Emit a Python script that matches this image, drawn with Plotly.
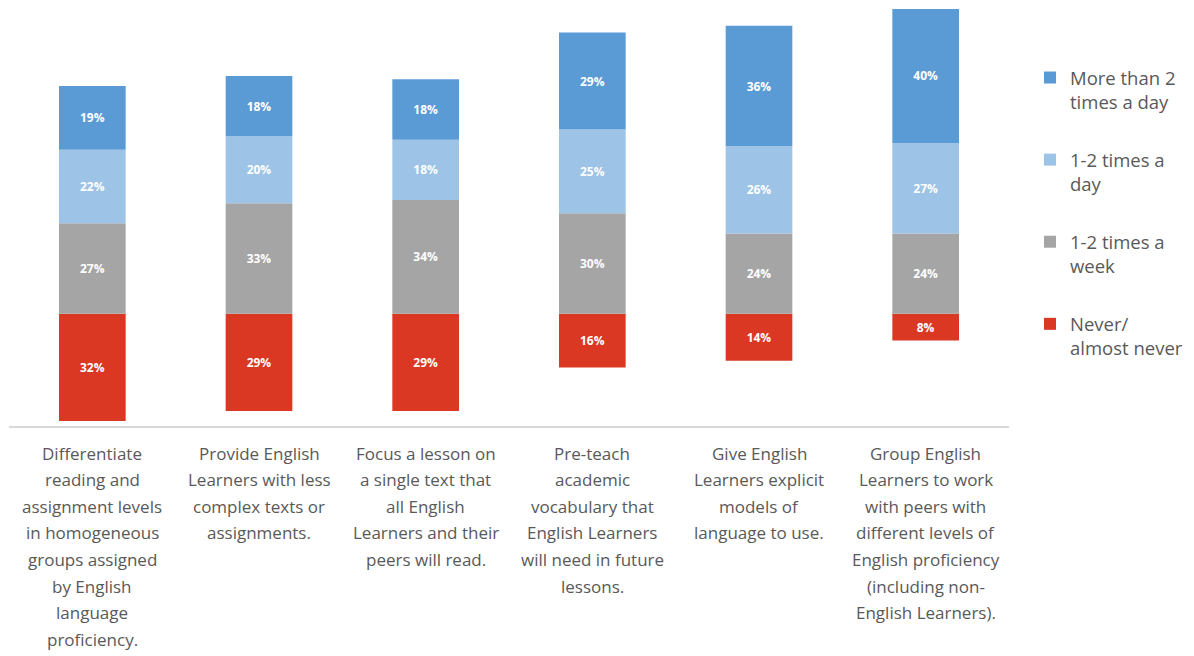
import plotly.graph_objects as go

categories = ["c1", "c2", "c3", "c4", "c5", "c6"]
category_lines = [
    ["Differentiate", "reading and", "assignment levels", "in homogeneous", "groups assigned", "by English", "language", "proficiency."],
    ["Provide English", "Learners with less", "complex texts or", "assignments."],
    ["Focus a lesson on", "a single text that", "all English", "Learners and their", "peers will read."],
    ["Pre-teach", "academic", "vocabulary that", "English Learners", "will need in future", "lessons."],
    ["Give English", "Learners explicit", "models of", "language to use."],
    ["Group English", "Learners to work", "with peers with", "different levels of", "English proficiency", "(including non-", "English Learners)."],
]
never = [32, 29, 29, 16, 14, 8]
week = [27, 33, 34, 30, 24, 24]
day = [22, 20, 18, 25, 26, 27]
more2 = [19, 18, 18, 29, 36, 40]

series_names = ["Never/<br>almost never", "1-2 times a<br>week", "1-2 times a<br>day", "More than 2<br>times a day"]
series_colors = ["#DA3823", "#A5A5A5", "#9DC3E6", "#5B9BD5"]
legend_ranks = [4, 3, 2, 1]

fig = go.Figure()
series_vals = [[-v for v in never], week, day, more2]
series_text = [never, week, day, more2]
for name, vals, txt, col, rk in zip(series_names, series_vals, series_text, series_colors, legend_ranks):
    fig.add_trace(go.Bar(
        x=categories, y=vals, name=name, legendgroup=name, legendrank=rk,
        marker=dict(color=col, line=dict(width=0)),
        text=[f"{t}%" for t in txt],
        texttemplate="<b>%{text}</b>",
        textposition="inside", insidetextanchor="middle", textangle=0,
        textfont=dict(color="white", size=12, family="Open Sans"),
        cliponaxis=False,
        hoverinfo="skip",
    ))

for cat, lines in zip(categories, category_lines):
    for i, line in enumerate(lines):
        fig.add_annotation(
            x=cat, xref="x", y=0, yref="paper", yanchor="middle",
            yshift=-(27 + 26.6 * i), text=line, showarrow=False,
            font=dict(size=17, color="#595959", family="Open Sans"),
        )

fig.update_layout(
    width=1186, height=648,
    margin=dict(l=1, r=185, t=0, b=230),
    barmode="relative", bargap=0.6,
    plot_bgcolor="white", paper_bgcolor="white",
    font=dict(family="Open Sans", color="#595959"),
    showlegend=True,
    legend=dict(
        x=1.021, xanchor="left", y=0.878, yanchor="top",
        traceorder="grouped", tracegroupgap=31, valign="top",
        font=dict(size=18.5, color="#595959", family="Open Sans"),
        itemwidth=30,
    ),
    xaxis=dict(showticklabels=False, showgrid=False, zeroline=False,
               showline=True, linecolor="#D9D9D9", linewidth=1.5, ticks=""),
    yaxis=dict(range=[-33.5, 91.3], showticklabels=False, showgrid=False,
               zeroline=False, showline=False, ticks=""),
)

fig.write_html("out.html")
